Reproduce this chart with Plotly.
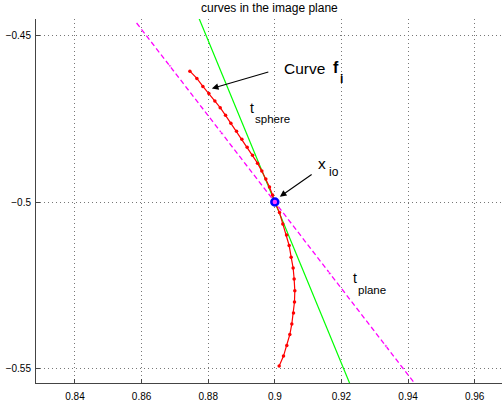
import plotly.graph_objects as go

# red curve f_i
curve_x = [0.8745, 0.8766, 0.8784, 0.8802, 0.8820, 0.8836, 0.8852, 0.8868, 0.8885,
           0.8901, 0.8917, 0.8933, 0.8948, 0.8961, 0.8973, 0.8984, 0.8993, 0.9000,
           0.9014, 0.9024, 0.9035, 0.9043, 0.9049, 0.9055, 0.9058, 0.9060, 0.9059,
           0.9056, 0.9051, 0.9045, 0.9036, 0.9026, 0.9013]
curve_y = [-0.4606, -0.4628, -0.4652, -0.4673, -0.4696, -0.4716, -0.4739, -0.4763, -0.4787,
           -0.4811, -0.4835, -0.4859, -0.4883, -0.4907, -0.4931, -0.4955, -0.4979, -0.5000,
           -0.5032, -0.5066, -0.5099, -0.5131, -0.5166, -0.5199, -0.5232, -0.5267, -0.5301,
           -0.5334, -0.5367, -0.5399, -0.5432, -0.5464, -0.5494]

# tangent to sphere (green)
sphere_x = [0.8772, 0.9235]
sphere_y = [-0.4446, -0.5571]

# tangent plane (magenta dashed)
plane_x = [0.8585, 0.8685, 0.8841, 0.9000, 0.9165, 0.9333, 0.9445]
plane_y = [-0.4461, -0.4590, -0.4793, -0.5000, -0.5215, -0.5433, -0.5579]
plane_marker_size = [0, 3, 3, 3, 3, 3, 0]

# point x_io
pt_x = [0.9]
pt_y = [-0.5]

x_ticks = [0.84, 0.86, 0.88, 0.90, 0.92, 0.94, 0.96]
x_tick_labels = ["0.84", "0.86", "0.88", "0.9", "0.92", "0.94", "0.96"]
y_ticks = [-0.55, -0.5, -0.45]
y_tick_labels = ["\u22120.55", "\u22120.5", "\u22120.45"]

FONT = "Liberation Sans, Arial, Helvetica, sans-serif"

fig = go.Figure()
fig.add_trace(go.Scatter(x=plane_x, y=plane_y, mode="lines+markers",
                         line=dict(color="#ff00ff", width=1.3, dash="5px,3px"),
                         marker=dict(color="#ff00ff", size=plane_marker_size),
                         hoverinfo="skip", showlegend=False))
fig.add_trace(go.Scatter(x=sphere_x, y=sphere_y, mode="lines",
                         line=dict(color="#00ff00", width=1.2),
                         hoverinfo="skip", showlegend=False))
fig.add_trace(go.Scatter(x=curve_x, y=curve_y, mode="lines+markers",
                         line=dict(color="#ff0000", width=1.2),
                         marker=dict(color="#ff0000", size=3.5),
                         hoverinfo="skip", showlegend=False))
fig.add_trace(go.Scatter(x=pt_x, y=pt_y, mode="markers",
                         marker=dict(color="#ff40ff", size=7,
                                     line=dict(color="#0000ff", width=2.5)),
                         hoverinfo="skip", showlegend=False, cliponaxis=False))

def txt(x, y, s, size, bold=False):
    fig.add_annotation(x=x, y=y, xref="x", yref="y", text=("<b>%s</b>" % s) if bold else s,
                       showarrow=False, xanchor="left", yanchor="middle", borderpad=0,
                       font=dict(family=FONT, size=size, color="black"))

# "Curve  f_i"
txt(0.9024, -0.4598, "Curve", 15.5)
txt(0.9173, -0.4595, "f", 16, bold=True)
txt(0.9194, -0.4629, "i", 12, bold=True)
# t_sphere
txt(0.8922, -0.4718, "t", 14)
txt(0.8937, -0.4750, "sphere", 11.5)
# x_io
txt(0.9127, -0.4884, "x", 15.5)
txt(0.9160, -0.4910, "io", 12)
# t_plane
txt(0.9233, -0.5230, "t", 14)
txt(0.9246, -0.5265, "plane", 11.5)

# arrows
fig.add_annotation(x=0.8811, y=-0.4658, ax=0.8985, ay=-0.4607, xref="x", yref="y",
                   axref="x", ayref="y", text="", showarrow=True, arrowhead=2,
                   arrowsize=1.2, arrowwidth=1.1, arrowcolor="black")
fig.add_annotation(x=0.9015, y=-0.4984, ax=0.9115, ay=-0.4914, xref="x", yref="y",
                   axref="x", ayref="y", text="", showarrow=True, arrowhead=2,
                   arrowsize=1.2, arrowwidth=1.1, arrowcolor="black")

# title
fig.add_annotation(x=0.5, y=1, xref="paper", yref="paper", yanchor="bottom",
                   yshift=2, text="curves in the image plane", showarrow=False,
                   font=dict(family=FONT, size=12, color="black"))

axis_common = dict(showline=True, linecolor="#444", linewidth=1, mirror=False,
                   ticks="inside", ticklen=4, tickcolor="#444",
                   showgrid=True, gridcolor="#777", griddash="1px,3px", gridwidth=1,
                   zeroline=False, tickfont=dict(family=FONT, size=10, color="black"))

fig.update_xaxes(range=[0.8283, 0.9682], tickvals=x_ticks, ticktext=x_tick_labels,
                 ticklabelstandoff=4, **axis_common)
fig.update_yaxes(range=[-0.5545, -0.4449], tickvals=y_ticks, ticktext=y_tick_labels,
                 ticklabelstandoff=2, **axis_common)

fig.update_layout(width=502, height=408, margin=dict(l=36, r=0, t=19, b=25),
                  paper_bgcolor="white", plot_bgcolor="white")

fig.write_html("out.html")
